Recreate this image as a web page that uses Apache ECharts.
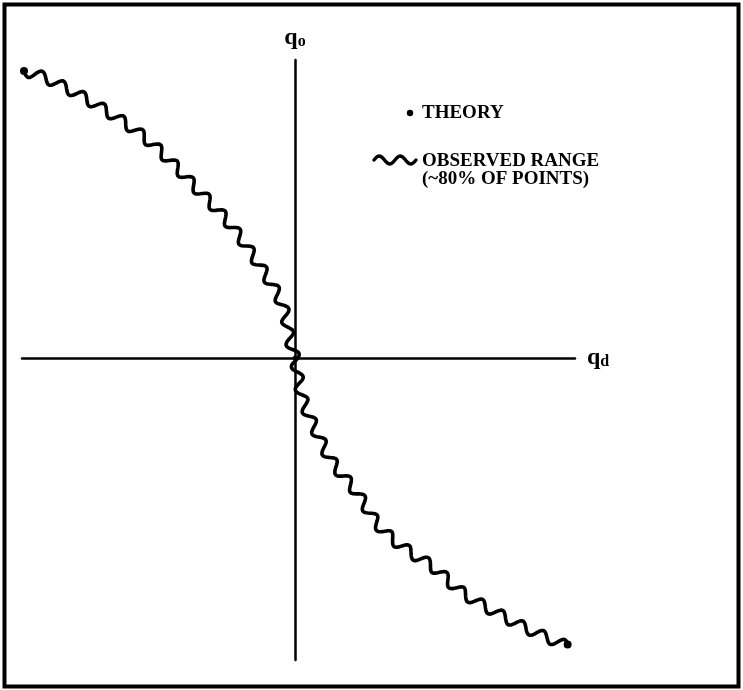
<!DOCTYPE html>
<html>
<head>
<meta charset="utf-8">
<script src="https://cdn.jsdelivr.net/npm/echarts@6/dist/echarts.min.js"></script>
<style>
    html, body { margin: 0; padding: 0; background: #fff; }
    #chart { width: 743px; height: 690px; }
</style>
</head>
<body>
<div id="chart"></div>
<script>
    // centre line of the observed range (arbitrary units, origin where the axes cross)
    var qdVals = [-271, -245, -195, -145, -95, -62, -28, -12, -5, 0, 2, 8, 22, 38, 62, 85, 112, 138, 168, 202, 235, 272];
    var qoVals = [287, 278, 251, 216, 166, 130, 81, 51, 18, 0, -12, -42, -75, -105, -135, -169, -192, -209, -235, -255, -272, -288];
    // theory sits at the origin
    var theoryQd = [0];
    var theoryQo = [0];

    var legendNames = ['THEORY', 'OBSERVED RANGE', '(~80% OF POINTS)'];
    var serif = '"Liberation Serif", "DejaVu Serif", serif';

    // catmull-rom through the pixel points
    function smooth(pts, steps) {
        var out = [];
        for (var i = 0; i < pts.length - 1; i++) {
            var p0 = pts[Math.max(i - 1, 0)], p1 = pts[i], p2 = pts[i + 1], p3 = pts[Math.min(i + 2, pts.length - 1)];
            for (var k = 0; k < steps; k++) {
                var t = k / steps, t2 = t * t, t3 = t2 * t;
                out.push([
                    0.5 * (2 * p1[0] + (-p0[0] + p2[0]) * t + (2 * p0[0] - 5 * p1[0] + 4 * p2[0] - p3[0]) * t2 + (-p0[0] + 3 * p1[0] - 3 * p2[0] + p3[0]) * t3),
                    0.5 * (2 * p1[1] + (-p0[1] + p2[1]) * t + (2 * p0[1] - 5 * p1[1] + 4 * p2[1] - p3[1]) * t2 + (-p0[1] + 3 * p1[1] - 3 * p2[1] + p3[1]) * t3)
                ]);
            }
        }
        out.push(pts[pts.length - 1]);
        return out;
    }

    // push the line sideways into a wiggle (purely a stroke style)
    function wiggle(pts, amp, wave) {
        var out = [], s = 0;
        for (var i = 0; i < pts.length; i++) {
            if (i > 0) s += Math.hypot(pts[i][0] - pts[i - 1][0], pts[i][1] - pts[i - 1][1]);
            var a = pts[Math.max(i - 1, 0)], b = pts[Math.min(i + 1, pts.length - 1)];
            var dx = b[0] - a[0], dy = b[1] - a[1], len = Math.hypot(dx, dy) || 1;
            var off = amp * Math.sin(2 * Math.PI * s / wave);
            out.push([pts[i][0] - dy / len * off, pts[i][1] + dx / len * off]);
        }
        return out;
    }

    function renderRange(params, api) {
        if (params.dataIndex !== 0) return null;
        var pts = qdVals.map(function (x, i) { return api.coord([x, qoVals[i]]); });
        var line = wiggle(smooth(pts, 40), 5, 23);
        var first = line[0], last = line[line.length - 1];
        return {
            type: 'group',
            children: [
                { type: 'polyline', shape: { points: line }, style: { stroke: '#000', lineWidth: 3.6, fill: null, lineJoin: 'round', lineCap: 'round' } },
                { type: 'circle', shape: { cx: first[0], cy: first[1], r: 4 }, style: { fill: '#000' } },
                { type: 'circle', shape: { cx: last[0], cy: last[1], r: 4 }, style: { fill: '#000' } }
            ]
        };
    }

    function legendWave() {
        var pts = [];
        for (var x = 374; x <= 416; x++) {
            pts.push([x, 160 - 4 * Math.sin(2 * Math.PI * (x - 374) / 21)]);
        }
        return pts;
    }

    var labelRich = {
        q: { fontFamily: serif, fontSize: 24, fontWeight: 'bold', color: '#000' },
        s: { fontFamily: serif, fontSize: 16, fontWeight: 'bold', color: '#000', verticalAlign: 'bottom' }
    };

    var chart = echarts.init(document.getElementById('chart'));
    chart.setOption({
        animation: false,
        backgroundColor: '#fff',
        grid: { left: 22, right: 168, top: 60, bottom: 30 },
        xAxis: {
            type: 'value',
            min: -273,
            max: 280,
            name: '{q|q}{s|d}',
            nameLocation: 'end',
            nameGap: 12,
            nameTextStyle: { rich: labelRich },
            axisLine: { onZero: true, lineStyle: { color: '#000', width: 2.5 } },
            axisTick: { show: false },
            axisLabel: { show: false },
            splitLine: { show: false }
        },
        yAxis: {
            type: 'value',
            min: -302,
            max: 298,
            name: '{q|q}{s|o}',
            nameLocation: 'end',
            nameGap: 10,
            nameTextStyle: { rich: labelRich, align: 'center' },
            axisLine: { onZero: true, lineStyle: { color: '#000', width: 2.5 } },
            axisTick: { show: false },
            axisLabel: { show: false },
            splitLine: { show: false }
        },
        series: [
            {
                name: legendNames[1],
                type: 'custom',
                renderItem: renderRange,
                encode: { x: 0, y: 1 },
                data: qdVals.map(function (x, i) { return [x, qoVals[i]]; }),
                z: 3
            },
            {
                name: legendNames[0],
                type: 'scatter',
                symbol: 'circle',
                symbolSize: 5,
                itemStyle: { color: '#000' },
                data: theoryQd.map(function (x, i) { return [x, theoryQo[i]]; }),
                z: 4
            }
        ],
        graphic: [
            { type: 'rect', shape: { x: 4.5, y: 4.5, width: 734, height: 682 }, style: { fill: null, stroke: '#000', lineWidth: 4 } },
            { type: 'circle', shape: { cx: 410, cy: 113, r: 3.2 }, style: { fill: '#000' } },
            { type: 'text', x: 422, y: 113, style: { text: legendNames[0], font: 'bold 19px ' + serif, fill: '#000', verticalAlign: 'middle' } },
            { type: 'polyline', shape: { points: legendWave() }, style: { stroke: '#000', lineWidth: 3.4, fill: null, lineCap: 'round' } },
            { type: 'text', x: 422, y: 161, style: { text: legendNames[1], font: 'bold 19px ' + serif, fill: '#000', verticalAlign: 'middle' } },
            { type: 'text', x: 422, y: 179, style: { text: legendNames[2], font: 'bold 19px ' + serif, fill: '#000', verticalAlign: 'middle' } }
        ]
    });
</script>
</body>
</html>
